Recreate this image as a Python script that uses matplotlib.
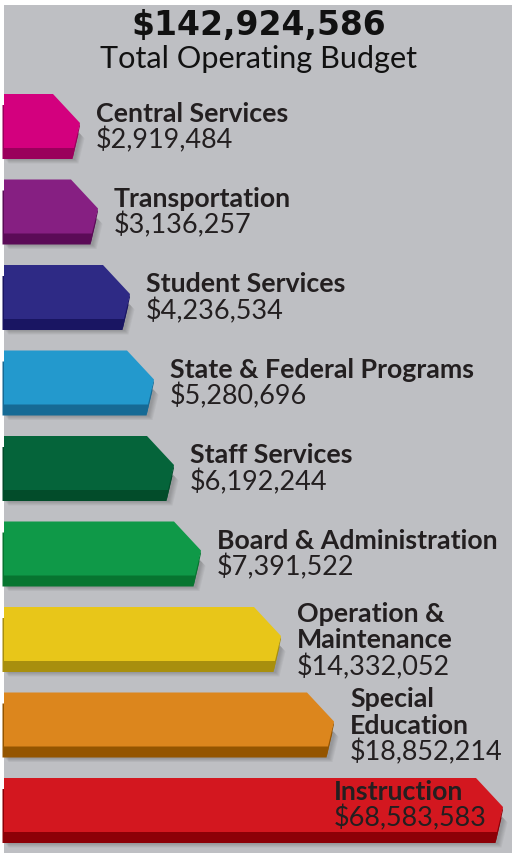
import matplotlib
matplotlib.use("Agg")
import matplotlib.pyplot as plt
from matplotlib.patches import Polygon, Rectangle

# ---- data ----
categories = ["Central Services", "Transportation", "Student Services",
              "State & Federal Programs", "Staff Services", "Board & Administration",
              "Operation &\nMaintenance", "Special\nEducation", "Instruction"]
amounts = [2919484, 3136257, 4236534, 5280696, 6192244, 7391522,
           14332052, 18852214, 68583583]
# drawn length of each arrow bar in the infographic (pixel units)
bar_lengths = [80, 98, 130, 154, 174, 201, 281, 334, 503]
total = 142924586
title_sub = "Total Operating Budget"

face_colors = ["#D3007E", "#861F82", "#2E2A85", "#2399CD", "#05643A",
               "#0F9948", "#E8C619", "#DC861D", "#D3171F"]
side_colors = ["#9A005C", "#5B0B57", "#191562", "#166A95", "#024C2A",
               "#077530", "#A88F0E", "#945500", "#8C0007"]

W, H = 512, 854
fig = plt.figure(figsize=(W / 100, H / 100), dpi=100)
fig.patch.set_facecolor("white")
ax = fig.add_axes([0, 0, 1, 1])
ax.set_xlim(0, W)
ax.set_ylim(H, 0)
ax.axis("off")

bg = "#BEBFC3"
ax.add_patch(Rectangle((4, 6), W - 4, H - 6, facecolor=bg, edgecolor="none", zorder=0))

x0 = 4
top0, step = 95, 85.5
face_h, thick, tip_dy, bevel, inset = 54, 11, 29, 27, 6


def shape(L, T, dx=0, dy=0):
    return [(x0 + dx, T + dy), (L - bevel + dx, T + dy), (L + dx, T + tip_dy + dy),
            (L - inset + dx, T + face_h + dy), (x0 + dx, T + face_h + dy)]


for i, (L, fc, sc) in enumerate(zip(bar_lengths, face_colors, side_colors)):
    T = top0 + step * i
    # soft shadow
    for k in range(1, 6):
        ax.add_patch(Polygon(shape(L, T, dx=k * 0.9, dy=thick + k * 0.9), closed=True,
                             facecolor="black", edgecolor="none", alpha=0.045, zorder=1))
    # extruded side
    ax.add_patch(Polygon(shape(L, T, dx=-1.5, dy=thick), closed=True,
                         facecolor=sc, edgecolor="none", zorder=2))
    side = [(L, T + tip_dy), (L, T + tip_dy + 3), (L - inset - 1.5, T + face_h + thick),
            (L - inset - 1.5, T + face_h)]
    ax.add_patch(Polygon(side, closed=True, facecolor=sc, edgecolor="none", zorder=2))
    ax.add_patch(Polygon(shape(L, T), closed=True, facecolor=fc, edgecolor="none", zorder=3))

fig.canvas.draw()
renderer = fig.canvas.get_renderer()


def fit(txt, target_w):
    bb = txt.get_window_extent(renderer)
    txt.set_fontsize(txt.get_fontsize() * target_w / bb.width)
    return txt.get_fontsize()


label_font = ["Lato", "DejaVu Sans"]
dark = "#231F20"

# calibrate label and value font sizes
probe = ax.text(0, 0, "State & Federal Programs", fontsize=14, fontweight="bold",
                family=label_font)
lab_fs = fit(probe, 307)
probe.remove()
probe = ax.text(0, 0, "$2,919,484", fontsize=14, family=label_font)
val_fs = fit(probe, 137)
probe.remove()

line_h = 26.5
for i, (name, amt, L) in enumerate(zip(categories, amounts, bar_lengths)):
    T = top0 + step * i
    lines = name.split("\n")
    n = len(lines) + 1
    if i == len(categories) - 1:
        x = 334
        first = T + 13
    elif n == 2:
        x = L + 16
        first = T + 18.5
    else:
        x = L + 16
        first = T + 6
    for j, ln in enumerate(lines):
        ax.text(x, first + j * line_h, ln, fontsize=lab_fs, fontweight="bold",
                family=label_font, color=dark, ha="left", va="center", zorder=5)
    ax.text(x, first + len(lines) * line_h, f"${amt:,}", fontsize=val_fs,
            family=label_font, color=dark, ha="left", va="center", zorder=5)

t1 = ax.text(259, 25, f"${total:,}", fontsize=18, fontweight="bold",
             family="DejaVu Sans", color="#111111", ha="center", va="center")
fit(t1, 254)
t2 = ax.text(259, 59, title_sub, fontsize=18, family=label_font,
             color="#111111", ha="center", va="center")
fit(t2, 317)

fig.savefig("out.png", dpi=100, facecolor=fig.get_facecolor())
